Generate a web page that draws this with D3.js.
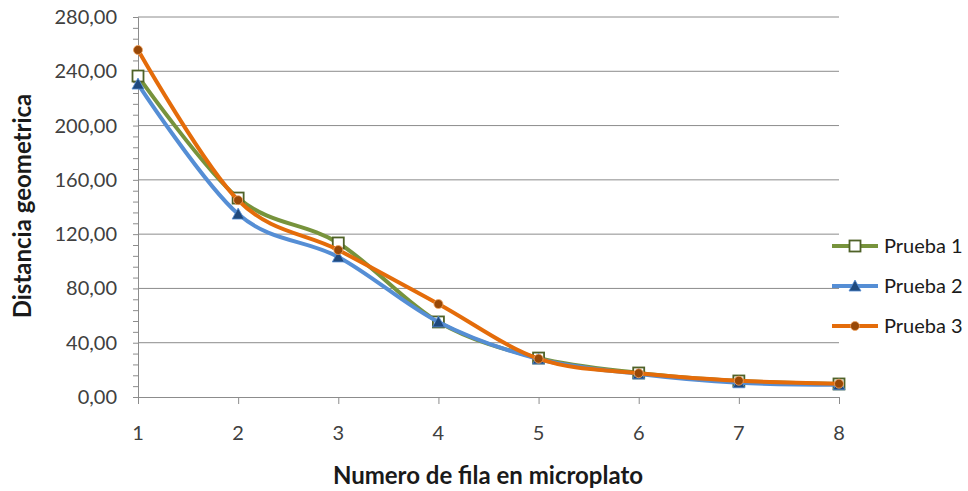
<!DOCTYPE html>
<html>
<head>
<meta charset="utf-8">
<script src="https://cdn.jsdelivr.net/npm/d3@7"></script>
<style>
  html, body { margin: 0; padding: 0; background: #fff; }
  svg { display: block; font-family: Lato, "Open Sans", sans-serif; }
</style>
</head>
<body>
<svg id="chart" width="968" height="491"></svg>
<script>
// Row numbers on the microplate
const filas = [1, 2, 3, 4, 5, 6, 7, 8];
// Geometric distance per row, one array per trial
const prueba1 = [236.5, 146.6, 113.5, 55.3, 28.7, 17.7, 11.8, 9.6];
const prueba2 = [230.6, 134.8, 103.2, 55.3, 28.0, 17.0, 10.5, 9.0];
const prueba3 = [255.7, 145.0, 108.3, 68.5, 28.2, 17.5, 12.0, 9.8];
const seriesNames = ["Prueba 1", "Prueba 2", "Prueba 3"];
const yTicks = [0, 40, 80, 120, 160, 200, 240, 280];

const series = [
  { name: seriesNames[0], values: prueba1, line: "#77933C", marker: "square" },
  { name: seriesNames[1], values: prueba2, line: "#558ED5", marker: "triangle" },
  { name: seriesNames[2], values: prueba3, line: "#E46C0A", marker: "circle" }
];

const svg = d3.select("#chart");
const plotLeft = 138, plotRight = 839, plotTop = 17, plotBottom = 397;

const x = d3.scaleLinear().domain([1, 8]).range([plotLeft, plotRight]);
const y = d3.scaleLinear().domain([0, 280]).range([plotBottom, plotTop]);
const fmt = v => d3.format(".2f")(v).replace(".", ",");

// Horizontal gridlines
svg.append("g").selectAll("line").data(yTicks.filter(d => d > 0)).join("line")
  .attr("x1", plotLeft).attr("x2", plotRight)
  .attr("y1", d => y(d)).attr("y2", d => y(d))
  .attr("stroke", "#8c8c8c").attr("stroke-width", 1);

// Y axis with minor ticks
const yAxis = svg.append("g").attr("transform", `translate(${plotLeft},0)`)
  .call(d3.axisLeft(y).tickValues(d3.range(0, 281, 8)).tickSize(5).tickFormat(""));
yAxis.select(".domain").attr("stroke", "#8c8c8c");
yAxis.selectAll(".tick line").attr("stroke", "#8c8c8c");
svg.append("g").selectAll("text").data(yTicks).join("text")
  .attr("x", plotLeft - 21).attr("y", d => y(d)).attr("dy", "0.35em")
  .attr("text-anchor", "end").attr("font-size", 20).attr("fill", "#404040")
  .text(fmt);

// X axis
const xAxis = svg.append("g").attr("transform", `translate(0,${plotBottom})`)
  .call(d3.axisBottom(x).tickValues(filas).tickSize(7).tickFormat(""));
xAxis.select(".domain").attr("stroke", "#8c8c8c");
xAxis.selectAll(".tick line").attr("stroke", "#8c8c8c");
svg.append("g").selectAll("text").data(filas).join("text")
  .attr("x", d => x(d)).attr("y", plotBottom + 43)
  .attr("text-anchor", "middle").attr("font-size", 20).attr("fill", "#404040")
  .text(d => d);

// Axis titles
svg.append("text").attr("x", 488).attr("y", 484).attr("text-anchor", "middle")
  .attr("font-size", 24).attr("font-weight", "bold").attr("fill", "#1a1a1a")
  .text("Numero de fila en microplato");
svg.append("text").attr("transform", "translate(31,206) rotate(-90)")
  .attr("text-anchor", "middle").attr("font-size", 24).attr("font-weight", "bold")
  .attr("fill", "#1a1a1a").text("Distancia geometrica");

const line = d3.line().x((d, i) => x(filas[i])).y(d => y(d))
  .curve(d3.curveCardinal.tension(0));

function drawMarker(g, type, cx, cy) {
  if (type === "square") {
    g.append("rect").attr("x", cx - 5.5).attr("y", cy - 5.5).attr("width", 11).attr("height", 11)
      .attr("fill", "#fff").attr("stroke", "#4F6228").attr("stroke-width", 1.8);
  } else if (type === "triangle") {
    g.append("path").attr("d", `M${cx},${cy - 6} L${cx + 6},${cy + 5} L${cx - 6},${cy + 5} Z`)
      .attr("fill", "#1F497D").attr("stroke", "#558ED5").attr("stroke-width", 0.8);
  } else {
    g.append("circle").attr("cx", cx).attr("cy", cy).attr("r", 4.5)
      .attr("fill", "#984807").attr("stroke", "#F2A766").attr("stroke-width", 0.8);
  }
}

series.forEach(s => {
  const g = svg.append("g");
  g.append("path").datum(s.values).attr("d", line)
    .attr("fill", "none").attr("stroke", s.line).attr("stroke-width", 4)
    .attr("stroke-linejoin", "round");
  s.values.forEach((v, i) => drawMarker(g, s.marker, x(filas[i]), y(v)));
});

// Legend
const legendY = [246, 286, 326];
series.forEach((s, i) => {
  const g = svg.append("g");
  g.append("line").attr("x1", 832).attr("x2", 878).attr("y1", legendY[i]).attr("y2", legendY[i])
    .attr("stroke", s.line).attr("stroke-width", 4);
  drawMarker(g, s.marker, 855, legendY[i]);
  g.append("text").attr("x", 884).attr("y", legendY[i]).attr("dy", "0.35em")
    .attr("font-size", 20).attr("fill", "#1a1a1a").text(s.name);
});
</script>
</body>
</html>
